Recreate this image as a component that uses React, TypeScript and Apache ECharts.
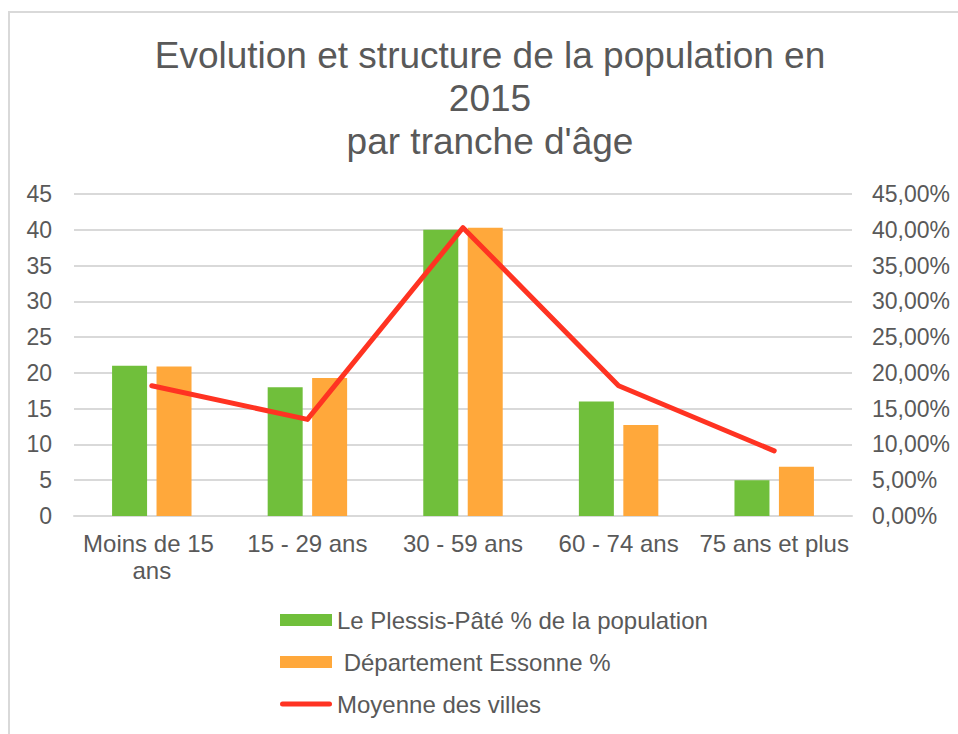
import React, { useEffect, useRef } from "react";
import * as echarts from "echarts";

const categories = ["Moins de 15 ans", "15 - 29 ans", "30 - 59 ans", "60 - 74 ans", "75 ans et plus"];
const plessisValues = [21.0, 18.0, 40.0, 16.0, 5.0];
const essonneValues = [20.9, 19.3, 40.3, 12.7, 6.9];
const moyenneValues = [18.2, 13.5, 40.3, 18.2, 9.1];
const seriesNames = ["Le Plessis-Pâté % de la population", " Département Essonne %", "Moyenne des villes"];
const titleText = "Evolution et structure de la population en\n2015\npar tranche d'âge";

const FONT = "'Liberation Sans', Arial, sans-serif";
const TEXT = "#595959";
const RED = "#ff3322";

export default function App() {
  const ref = useRef<HTMLDivElement>(null);
  useEffect(() => {
    if (!ref.current) return;
    const chart = echarts.init(ref.current, undefined, { renderer: "svg" });
    chart.setOption({
      animation: false,
      backgroundColor: "#ffffff",
      textStyle: { fontFamily: FONT },
      graphic: [
        {
          type: "rect",
          shape: { x: 9, y: 12, width: 1000, height: 800 },
          style: { fill: "none", stroke: "#d9d9d9", lineWidth: 2 },
          silent: true,
        },
      ],
      title: {
        text: titleText,
        left: 490,
        top: 34,
        textAlign: "center",
        padding: 0,
        textStyle: { fontSize: 37, lineHeight: 43, color: TEXT, fontWeight: "normal", fontFamily: FONT },
      },
      legend: {
        orient: "vertical",
        left: 280,
        top: 608,
        itemWidth: 52,
        itemHeight: 12,
        itemGap: 18,
        padding: 0,
        textStyle: { fontSize: 24, color: TEXT, fontFamily: FONT },
        data: [
          { name: seriesNames[0], icon: "rect" },
          { name: seriesNames[1], icon: "rect" },
          { name: seriesNames[2], icon: "path://M2.5,0 L49.5,0 A2.5,2.5 0 0 1 49.5,5 L2.5,5 A2.5,2.5 0 0 1 2.5,0 Z" },
        ],
      },
      grid: { left: 74, right: 106, top: 194, bottom: 218, containLabel: false },
      xAxis: {
        type: "category",
        data: categories,
        axisLine: { lineStyle: { color: "#d9d9d9", width: 2 } },
        axisTick: { show: false },
        axisLabel: {
          interval: 0,
          color: TEXT,
          fontSize: 24,
          lineHeight: 27,
          margin: 14,
          width: 152,
          overflow: "break",
          fontFamily: FONT,
        },
      },
      yAxis: [
        {
          type: "value",
          min: 0,
          max: 45,
          interval: 5,
          axisLine: { show: false },
          axisTick: { show: false },
          splitLine: { lineStyle: { color: "#d9d9d9", width: 2 } },
          axisLabel: { color: TEXT, fontSize: 23, margin: 22, fontFamily: FONT },
        },
        {
          type: "value",
          min: 0,
          max: 45,
          interval: 5,
          axisLine: { show: false },
          axisTick: { show: false },
          splitLine: { show: false },
          axisLabel: {
            color: TEXT,
            fontSize: 23,
            margin: 20,
            fontFamily: FONT,
            formatter: (v: number) => v.toFixed(2).replace(".", ",") + "%",
          },
        },
      ],
      series: [
        {
          name: seriesNames[0],
          type: "bar",
          data: plessisValues,
          barWidth: 35,
          barGap: "27%",
          itemStyle: { color: "#70bf3b" },
        },
        {
          name: seriesNames[1],
          type: "bar",
          data: essonneValues,
          barWidth: 35,
          barGap: "27%",
          itemStyle: { color: "#ffa83b" },
        },
        {
          name: seriesNames[2],
          type: "line",
          yAxisIndex: 1,
          data: moyenneValues,
          symbol: "none",
          lineStyle: { color: RED, width: 5, join: "round", cap: "round" },
          itemStyle: { color: RED },
          z: 5,
        },
      ],
    });
    return () => chart.dispose();
  }, []);
  return <div ref={ref} style={{ position: "fixed", left: 0, top: 0, width: 958, height: 734 }} />;
}
